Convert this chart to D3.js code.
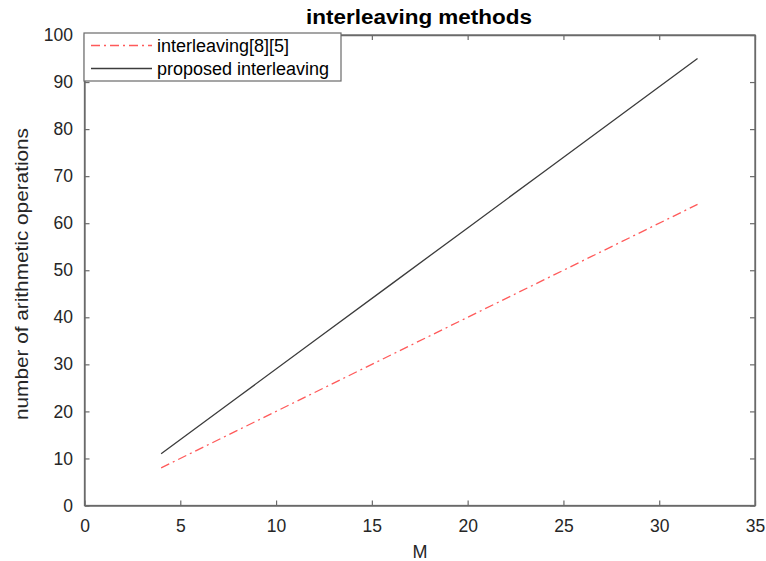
<!DOCTYPE html>
<html><head><meta charset="utf-8">
<script src="https://cdn.jsdelivr.net/npm/d3@7"></script>
<style>body{margin:0;background:#fff}svg{display:block}text{font-family:"Liberation Sans",Arial,sans-serif}</style>
</head><body><svg id="c" width="766" height="561"></svg>
<script>
const M = [4, 8, 12, 16, 20, 24, 28, 32];
const interleaving85 = [8, 16, 24, 32, 40, 48, 56, 64];
const proposed = [11, 23, 35, 47, 59, 71, 83, 95];
const xTicks = [0, 5, 10, 15, 20, 25, 30, 35];
const yTicks = [0, 10, 20, 30, 40, 50, 60, 70, 80, 90, 100];
const seriesNames = ["interleaving[8][5]", "proposed interleaving"];

const svg = d3.select("#c");
const L = 84.5, R = 755, T = 35, B = 505.5;
const x = d3.scaleLinear().domain([0, 35]).range([L, R]);
const y = d3.scaleLinear().domain([0, 100]).range([B, T]);
const axisCol = "#6a6a6a";

svg.append("rect").attr("x", L).attr("y", T).attr("width", R - L).attr("height", B - T)
  .attr("fill", "none").attr("stroke", axisCol).attr("stroke-width", 1.3);

const xa = svg.append("g").attr("transform", `translate(0,${B})`)
  .call(d3.axisBottom(x).tickValues(xTicks).tickSizeInner(-5).tickSizeOuter(0).tickPadding(14.5));
const ya = svg.append("g").attr("transform", `translate(${L},0)`)
  .call(d3.axisLeft(y).tickValues(yTicks).tickSizeInner(-5).tickSizeOuter(0).tickPadding(11.5));
svg.append("g").attr("transform", `translate(0,${T})`)
  .call(d3.axisTop(x).tickValues(xTicks).tickSizeInner(-5).tickSizeOuter(0).tickFormat(""));
svg.append("g").attr("transform", `translate(${R},0)`)
  .call(d3.axisRight(y).tickValues(yTicks).tickSizeInner(-5).tickSizeOuter(0).tickFormat(""));
svg.selectAll(".domain").attr("stroke", axisCol).attr("stroke-width", 1.3);
svg.selectAll(".tick line").attr("stroke", axisCol).attr("stroke-width", 1.2);
svg.selectAll(".tick text").attr("fill", "#262626").style("font-size", "17.5px")
  .style("font-family", '"Liberation Sans",Arial,sans-serif');
xa.selectAll(".tick text").attr("dy", "0.71em");

const line = d3.line().x(d => x(d[0])).y(d => y(d[1]));
svg.append("path").datum(M.map((m, i) => [m, interleaving85[i]])).attr("d", line)
  .attr("fill", "none").attr("stroke", "#ff5a5a").attr("stroke-width", 1.3)
  .attr("stroke-dasharray", "9,4,2,4");
svg.append("path").datum(M.map((m, i) => [m, proposed[i]])).attr("d", line)
  .attr("fill", "none").attr("stroke", "#3c3c3c").attr("stroke-width", 1.3);

svg.append("text").attr("x", 419).attr("y", 24).attr("text-anchor", "middle")
  .attr("textLength", 226).attr("lengthAdjust", "spacingAndGlyphs")
  .style("font-size", "20px").style("font-weight", "bold").attr("fill", "#000").text("interleaving methods");
svg.append("text").attr("x", 420).attr("y", 557.5).attr("text-anchor", "middle")
  .style("font-size", "18px").attr("fill", "#262626").text("M");
svg.append("text").attr("transform", `translate(28,274) rotate(-90)`).attr("text-anchor", "middle")
  .attr("textLength", 292).attr("lengthAdjust", "spacingAndGlyphs")
  .style("font-size", "19px").attr("fill", "#262626").text("number of arithmetic operations");

const lg = svg.append("g");
lg.append("rect").attr("x", 84).attr("y", 33).attr("width", 257).attr("height", 48)
  .attr("fill", "#fff").attr("stroke", axisCol).attr("stroke-width", 1.2);
const styles = [{c: "#ff5a5a", d: "9,4,2,4"}, {c: "#3c3c3c", d: null}];
seriesNames.forEach((n, i) => {
  const yy = 45.5 + i * 23;
  lg.append("line").attr("x1", 91).attr("x2", 152).attr("y1", yy).attr("y2", yy)
    .attr("stroke", styles[i].c).attr("stroke-width", 1.3).attr("stroke-dasharray", styles[i].d);
  lg.append("text").attr("x", 157).attr("y", yy).attr("dy", "0.37em")
    .style("font-size", "18px").attr("fill", "#000").text(n);
});
</script></body></html>
